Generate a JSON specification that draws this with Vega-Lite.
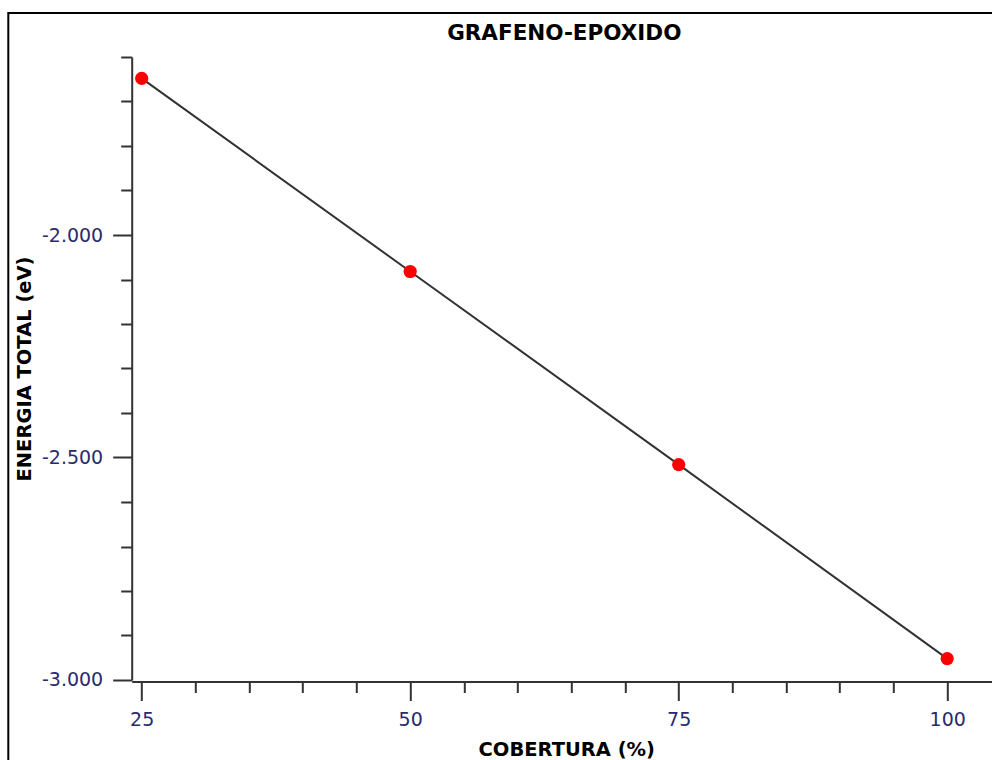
{
  "$schema": "https://vega.github.io/schema/vega-lite/v6.json",
  "width": 1000,
  "height": 760,
  "autosize": "none",
  "padding": {"left": 8.3, "top": 13, "right": 0, "bottom": 0},
  "background": "white",
  "config": {
    "view": {"stroke": "black", "strokeWidth": 2},
    "axis": {"grid": false, "domainColor": "#333333", "domainWidth": 2, "tickColor": "#333333", "tickWidth": 2, "labelFlush": false, "labelOverlap": false}
  },
  "title": {
    "text": "GRAFENO-EPOXIDO",
    "font": "DejaVu Sans",
    "fontSize": 21.5,
    "fontWeight": "bold",
    "color": "black",
    "anchor": "middle",
    "frame": "group",
    "offset": 0,
    "dx": 56,
    "dy": 31
  },
  "data": {
    "values": [
      {"cobertura": 25, "energia": -1.648},
      {"cobertura": 50, "energia": -2.082},
      {"cobertura": 75, "energia": -2.516},
      {"cobertura": 100, "energia": -2.952}
    ]
  },
  "layer": [
    {
      "mark": {"type": "line", "color": "#333333", "strokeWidth": 2},
      "encoding": {
        "x": {
          "field": "cobertura",
          "type": "quantitative",
          "scale": {"domain": [24.07, 105], "range": [123.4, 992.6], "nice": false, "zero": false},
          "axis": {
            "orient": "bottom",
            "offset": -91.5,
            "values": [25, 50, 75, 100],
            "tickSize": 19,
            "labelPadding": 10,
            "labelFont": "DejaVu Sans",
            "labelFontSize": 19,
            "labelColor": "#2a2a6e",
            "title": "COBERTURA (%)",
            "titleFont": "DejaVu Sans",
            "titleFontSize": 19.5,
            "titleFontWeight": "bold",
            "titleColor": "black",
            "titlePadding": 11
          }
        },
        "y": {
          "field": "energia",
          "type": "quantitative",
          "scale": {"domain": [-3, -1.6], "range": [667, 44], "nice": false, "zero": false},
          "axis": {
            "orient": "left",
            "offset": -123.4,
            "values": [-3, -2.5, -2],
            "tickSize": 19,
            "labelPadding": 10,
            "labelFont": "DejaVu Sans",
            "labelFontSize": 19,
            "labelColor": "#2a2a6e",
            "labelExpr": "'-' + format(-datum.value, '.3f')",
            "title": "ENERGIA TOTAL (eV)",
            "titleFont": "DejaVu Sans",
            "titleFontSize": 19.5,
            "titleFontWeight": "bold",
            "titleColor": "black",
            "titlePadding": 7
          }
        }
      }
    },
    {
      "mark": {"type": "point", "filled": true, "color": "#ff0000", "opacity": 1, "size": 175},
      "encoding": {
        "x": {
          "field": "cobertura",
          "type": "quantitative",
          "scale": {"domain": [24.07, 105], "range": [123.4, 992.6], "nice": false, "zero": false},
          "axis": {
            "orient": "bottom",
            "offset": -91.5,
            "values": [30, 35, 40, 45, 55, 60, 65, 70, 80, 85, 90, 95],
            "tickSize": 11,
            "labels": false,
            "domain": false,
            "title": null
          }
        },
        "y": {
          "field": "energia",
          "type": "quantitative",
          "scale": {"domain": [-3, -1.6], "range": [667, 44], "nice": false, "zero": false},
          "axis": {
            "orient": "left",
            "offset": -123.4,
            "values": [-2.9, -2.8, -2.7, -2.6, -2.4, -2.3, -2.2, -2.1, -1.9, -1.8, -1.7, -1.6],
            "tickSize": 11,
            "labels": false,
            "domain": false,
            "title": null
          }
        }
      }
    }
  ],
  "resolve": {"axis": {"x": "independent", "y": "independent"}}
}
